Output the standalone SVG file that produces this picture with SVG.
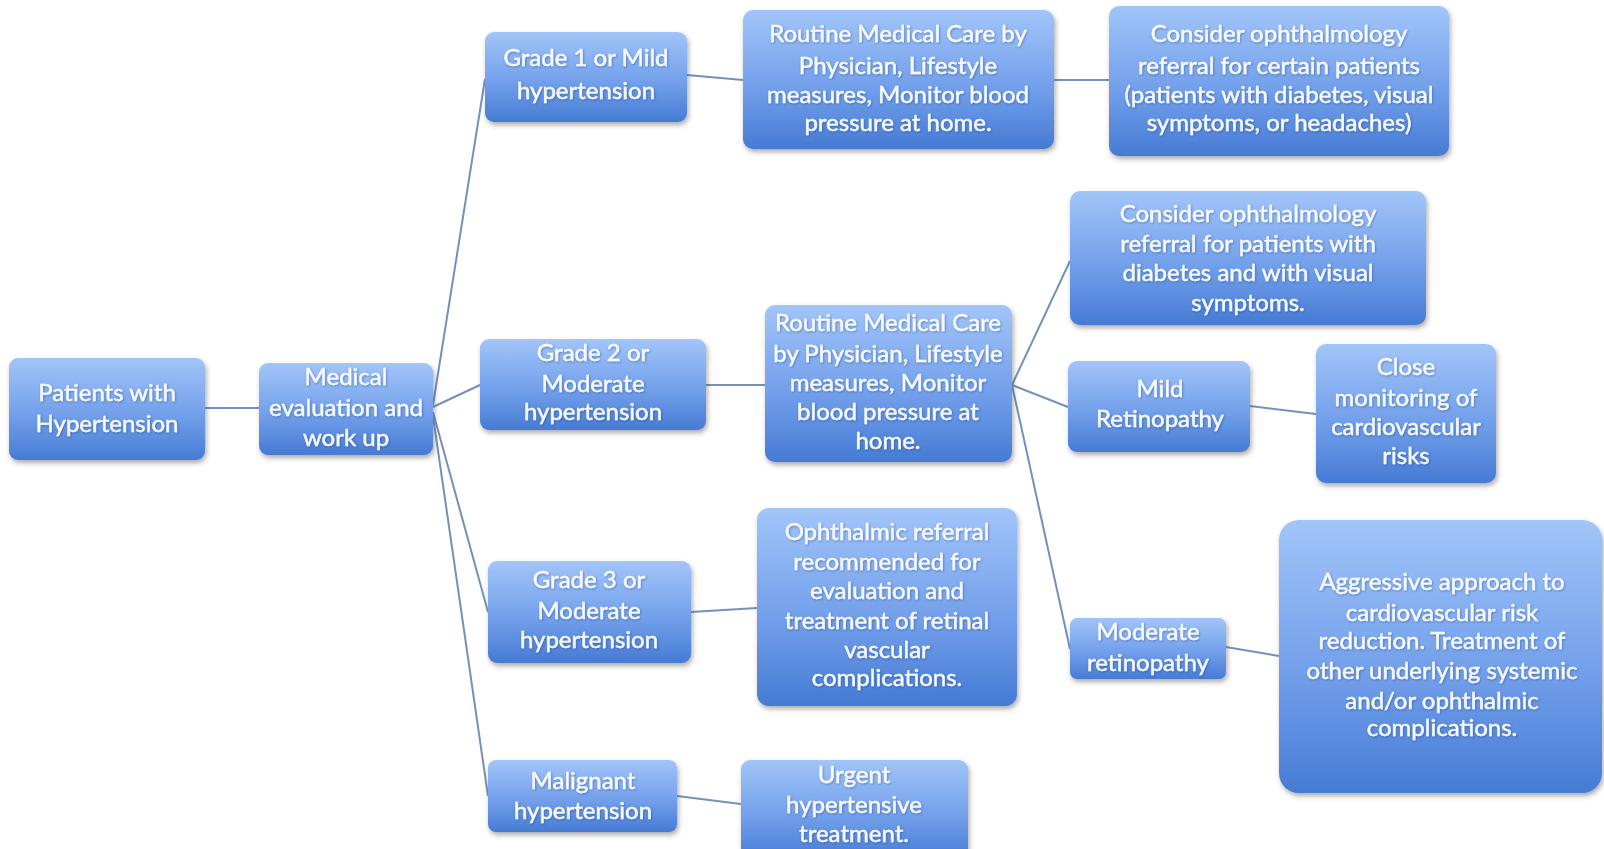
<svg xmlns="http://www.w3.org/2000/svg" width="1604" height="849" viewBox="0 0 1604 849">
<defs>
<linearGradient id="g" x1="0" y1="0" x2="0" y2="1">
<stop offset="0" stop-color="#a2c5f9"/>
<stop offset="0.55" stop-color="#73a0eb"/>
<stop offset="1" stop-color="#467bd4"/>
</linearGradient>
<filter id="sh" x="-10%" y="-10%" width="125%" height="130%">
<feDropShadow dx="1.5" dy="3" stdDeviation="2.5" flood-color="#444" flood-opacity="0.45"/>
</filter>
<filter id="ts" x="-5%" y="-20%" width="110%" height="150%">
<feDropShadow dx="0.8" dy="1" stdDeviation="0.8" flood-color="#1c3f80" flood-opacity="0.45"/>
</filter>
<style>
.box{fill:url(#g);filter:url(#sh)}
.t{font-family:Lato,"Open Sans","Liberation Sans",sans-serif;font-size:24px;fill:#f7f9fd;stroke:#f7f9fd;stroke-width:0.45;text-anchor:middle;filter:url(#ts)}
.c{stroke:#7391bb;stroke-width:2;fill:none}
</style>
</defs>
<rect width="1604" height="849" fill="#ffffff"/>
<g id="connectors">
<line class="c" x1="205" y1="408" x2="259" y2="408"/>
<line class="c" x1="433" y1="405" x2="485" y2="79"/>
<line class="c" x1="433" y1="407" x2="480" y2="385"/>
<line class="c" x1="433" y1="412" x2="488" y2="612"/>
<line class="c" x1="433" y1="416" x2="488" y2="796"/>
<line class="c" x1="687" y1="75" x2="743" y2="80"/>
<line class="c" x1="1054" y1="80" x2="1109" y2="80"/>
<line class="c" x1="706" y1="385" x2="765" y2="385"/>
<line class="c" x1="1012" y1="385" x2="1070" y2="261"/>
<line class="c" x1="1012" y1="385" x2="1068" y2="407"/>
<line class="c" x1="1012" y1="385" x2="1070" y2="649"/>
<line class="c" x1="1250" y1="406" x2="1316" y2="414"/>
<line class="c" x1="1226" y1="647" x2="1279" y2="656"/>
<line class="c" x1="691" y1="612" x2="757" y2="608"/>
<line class="c" x1="677" y1="796" x2="741" y2="804"/>
</g>
<g id="patients">
<rect class="box" x="9" y="358" width="196" height="102" rx="9"/>
<text class="t" x="107" y="401">Patients with</text>
<text class="t" x="107" y="432">Hypertension</text>
</g>
<g id="medical">
<rect class="box" x="259" y="363" width="174" height="92" rx="9"/>
<text class="t" x="346" y="385">Medical</text>
<text class="t" x="346" y="416">evaluation and</text>
<text class="t" x="346" y="446">work up</text>
</g>
<g id="grade1">
<rect class="box" x="485" y="32" width="202" height="90" rx="9"/>
<text class="t" x="586" y="66">Grade 1 or Mild</text>
<text class="t" x="586" y="99">hypertension</text>
</g>
<g id="routine1">
<rect class="box" x="743" y="10" width="311" height="139" rx="10"/>
<text class="t" x="898" y="42">Routine Medical Care by</text>
<text class="t" x="898" y="74">Physician, Lifestyle</text>
<text class="t" x="898" y="103">measures, Monitor blood</text>
<text class="t" x="898" y="131">pressure at home.</text>
</g>
<g id="consider1">
<rect class="box" x="1109" y="6" width="340" height="150" rx="10"/>
<text class="t" x="1279" y="42">Consider ophthalmology</text>
<text class="t" x="1279" y="74">referral for certain patients</text>
<text class="t" x="1279" y="103">(patients with diabetes, visual</text>
<text class="t" x="1279" y="131">symptoms, or headaches)</text>
</g>
<g id="consider2">
<rect class="box" x="1070" y="191" width="356" height="134" rx="10"/>
<text class="t" x="1248" y="222">Consider ophthalmology</text>
<text class="t" x="1248" y="252">referral for patients with</text>
<text class="t" x="1248" y="281">diabetes and with visual</text>
<text class="t" x="1248" y="311">symptoms.</text>
</g>
<g id="grade2">
<rect class="box" x="480" y="339" width="226" height="91" rx="9"/>
<text class="t" x="593" y="361">Grade 2 or</text>
<text class="t" x="593" y="392">Moderate</text>
<text class="t" x="593" y="420">hypertension</text>
</g>
<g id="routine2">
<rect class="box" x="765" y="305" width="247" height="157" rx="10"/>
<text class="t" x="888" y="331">Routine Medical Care</text>
<text class="t" x="888" y="362">by Physician, Lifestyle</text>
<text class="t" x="888" y="391">measures, Monitor</text>
<text class="t" x="888" y="420">blood pressure at</text>
<text class="t" x="888" y="449">home.</text>
</g>
<g id="mild">
<rect class="box" x="1068" y="361" width="182" height="91" rx="9"/>
<text class="t" x="1160" y="397">Mild</text>
<text class="t" x="1160" y="427">Retinopathy</text>
</g>
<g id="close">
<rect class="box" x="1316" y="344" width="180" height="139" rx="10"/>
<text class="t" x="1406" y="375">Close</text>
<text class="t" x="1406" y="406">monitoring of</text>
<text class="t" x="1406" y="435">cardiovascular</text>
<text class="t" x="1406" y="464">risks</text>
</g>
<g id="grade3">
<rect class="box" x="488" y="561" width="203" height="102" rx="9"/>
<text class="t" x="589" y="588">Grade 3 or</text>
<text class="t" x="589" y="619">Moderate</text>
<text class="t" x="589" y="648">hypertension</text>
</g>
<g id="ophthalmic">
<rect class="box" x="757" y="508" width="260" height="198" rx="12"/>
<text class="t" x="887" y="540">Ophthalmic referral</text>
<text class="t" x="887" y="570">recommended for</text>
<text class="t" x="887" y="599">evaluation and</text>
<text class="t" x="887" y="629">treatment of retinal</text>
<text class="t" x="887" y="658">vascular</text>
<text class="t" x="887" y="686">complications.</text>
</g>
<g id="moderate">
<rect class="box" x="1070" y="618" width="156" height="61" rx="7"/>
<text class="t" x="1148" y="640">Moderate</text>
<text class="t" x="1148" y="671">retinopathy</text>
</g>
<g id="aggressive">
<rect class="box" x="1279" y="520" width="323" height="273" rx="20"/>
<text class="t" x="1442" y="590">Aggressive approach to</text>
<text class="t" x="1442" y="621">cardiovascular risk</text>
<text class="t" x="1442" y="649">reduction. Treatment of</text>
<text class="t" x="1442" y="679">other underlying systemic</text>
<text class="t" x="1442" y="709">and/or ophthalmic</text>
<text class="t" x="1442" y="736">complications.</text>
</g>
<g id="malignant">
<rect class="box" x="488" y="760" width="189" height="72" rx="8"/>
<text class="t" x="583" y="789">Malignant</text>
<text class="t" x="583" y="819">hypertension</text>
</g>
<g id="urgent">
<rect class="box" x="741" y="760" width="227" height="100" rx="9"/>
<text class="t" x="854" y="783">Urgent</text>
<text class="t" x="854" y="813">hypertensive</text>
<text class="t" x="854" y="842">treatment.</text>
</g>
</svg>
